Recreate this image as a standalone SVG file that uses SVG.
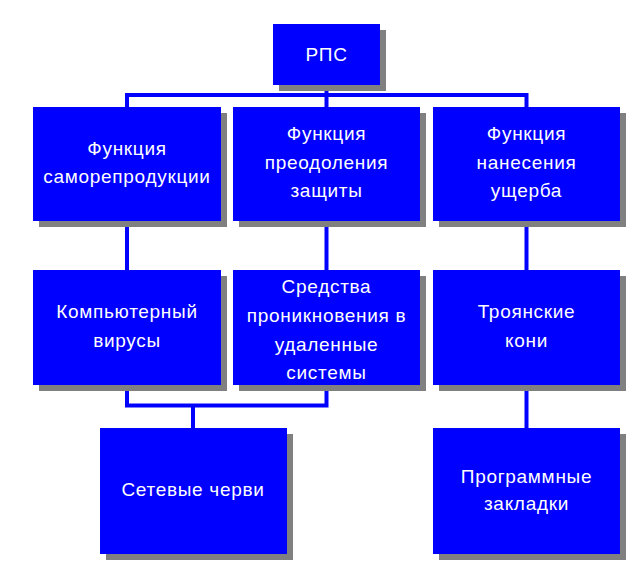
<svg xmlns="http://www.w3.org/2000/svg" width="641" height="585" viewBox="0 0 641 585">
<style>
.shadow{fill:#808080}
.box{fill:#0000ff}
.t{fill:#ffffff;font-family:"Liberation Sans",Arial,sans-serif;font-size:19px;letter-spacing:0.7px;text-anchor:middle}
.c{fill:none;stroke:#0000ff;stroke-width:4;stroke-linecap:butt}
</style>
<rect width="641" height="585" fill="#ffffff"/>
<g id="connectors">
<path class="c" d="M326.5 85V95M127 108V95H526.5V108M326.5 95V108"/>
<path class="c" d="M127 221V270M326.5 221V270M526.5 221V270M526.5 385V428"/>
<path class="c" d="M127 385V405.5H326.5V385M193 405.5V428"/>
</g>
<g id="n-rps"><rect class="shadow" x="279" y="30" width="107" height="61"/><rect class="box" x="273" y="24" width="107" height="61"/><text class="t" x="326.5" y="61">РПС</text></g>
<g id="n-f1"><rect class="shadow" x="39" y="113" width="188" height="114"/><rect class="box" x="33" y="107" width="188" height="114"/><text class="t" x="127" y="155">Функция</text><text class="t" x="127" y="183">саморепродукции</text></g>
<g id="n-f2"><rect class="shadow" x="239" y="113" width="187" height="114"/><rect class="box" x="233" y="107" width="187" height="114"/><text class="t" x="326.5" y="140">Функция</text><text class="t" x="326.5" y="169">преодоления</text><text class="t" x="326.5" y="197">защиты</text></g>
<g id="n-f3"><rect class="shadow" x="439" y="113" width="187" height="114"/><rect class="box" x="433" y="107" width="187" height="114"/><text class="t" x="526.5" y="140">Функция</text><text class="t" x="526.5" y="169">нанесения</text><text class="t" x="526.5" y="197">ущерба</text></g>
<g id="n-viruses"><rect class="shadow" x="39" y="276" width="188" height="115"/><rect class="box" x="33" y="270" width="188" height="115"/><text class="t" x="127" y="318">Компьютерный</text><text class="t" x="127" y="347">вирусы</text></g>
<g id="n-means"><rect class="shadow" x="239" y="276" width="187" height="115"/><rect class="box" x="233" y="270" width="187" height="115"/><text class="t" x="326.5" y="293">Средства</text><text class="t" x="326.5" y="322">проникновения в</text><text class="t" x="326.5" y="351">удаленные</text><text class="t" x="326.5" y="379">системы</text></g>
<g id="n-trojans"><rect class="shadow" x="439" y="276" width="187" height="115"/><rect class="box" x="433" y="270" width="187" height="115"/><text class="t" x="526.5" y="318">Троянские</text><text class="t" x="526.5" y="347">кони</text></g>
<g id="n-worms"><rect class="shadow" x="106" y="434" width="187" height="126"/><rect class="box" x="100" y="428" width="187" height="126"/><text class="t" x="193" y="496">Сетевые черви</text></g>
<g id="n-bookmarks"><rect class="shadow" x="439" y="434" width="187" height="126"/><rect class="box" x="433" y="428" width="187" height="126"/><text class="t" x="526.5" y="483">Программные</text><text class="t" x="526.5" y="510">закладки</text></g>
</svg>
